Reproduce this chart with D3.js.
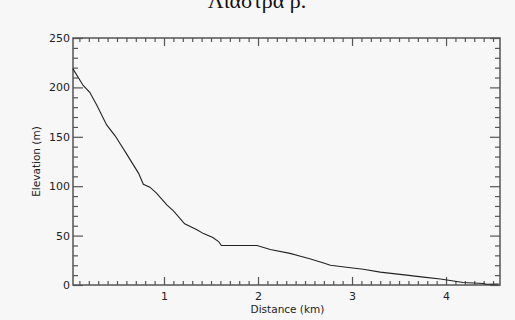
<!DOCTYPE html>
<html>
<head>
<meta charset="utf-8">
<script src="https://cdn.jsdelivr.net/npm/d3@7"></script>
<style>
html,body{margin:0;padding:0;background:#f7f7f7;}
svg{display:block;}
</style>
</head>
<body>
<svg id="chart" width="515" height="320"></svg>
<script>
const title = "Λιάστρα ρ.";
const xLabel = "Distance (km)";
const yLabel = "Elevation (m)";
const distanceKm = [0.03,0.14,0.21,0.28,0.39,0.48,0.60,0.73,0.78,0.85,0.92,1.03,1.10,1.22,1.35,1.42,1.52,1.58,1.61,1.99,2.13,2.34,2.55,2.69,2.77,2.94,3.12,3.30,3.58,3.76,3.94,4.08,4.18,4.40,4.43,4.56];
const elevationM = [219,202,195,183,162,151,133,113,102,99,93,81,75,62,56,52,48,44,40,40,36,32,26.5,22.5,20,18,16,13,10,8,6,4,2.5,1.5,0.8,1];
const xDomain = [0.032, 4.574];
const yDomain = [0, 250];
const xMajorTicks = [1,2,3,4];
const yMajorTicks = [0,50,100,150,200,250];

const svg = d3.select("#chart");
const L = 73, R = 500, T = 38, B = 285;
const x = d3.scaleLinear().domain(xDomain).range([L, R]);
const y = d3.scaleLinear().domain(yDomain).range([B, T]);

const axisColor = "#555";
const font = "'DejaVu Sans', sans-serif";

svg.append("rect").attr("width",515).attr("height",320).attr("fill","#f7f7f7");

svg.append("text").attr("x",257).attr("y",8).attr("text-anchor","middle")
  .attr("font-family","'Liberation Serif', 'DejaVu Serif', serif").attr("font-size",22)
  .attr("fill","#111").text(title);

const xMinor = d3.range(1, 46).map(d => d/10).filter(v => v > xDomain[0] && v < xDomain[1] && !xMajorTicks.includes(v));
const yMinor = d3.range(0, 251, 10).filter(v => v % 50 !== 0);

function styleAxis(g){
  g.select(".domain").remove();
  g.selectAll("line").attr("stroke", axisColor).attr("stroke-width", 1.2);
  g.selectAll("text").attr("font-family", font).attr("font-size", 11).attr("fill", "#222");
}

// bottom
const gb = svg.append("g").attr("transform",`translate(0,${B})`);
gb.call(d3.axisBottom(x).tickValues(xMinor).tickSize(-4).tickFormat("")).call(styleAxis);
const gbM = svg.append("g").attr("transform",`translate(0,${B})`);
gbM.call(d3.axisBottom(x).tickValues(xMajorTicks).tickSize(-8).tickPadding(12).tickFormat(d3.format("d"))).call(styleAxis);
gbM.selectAll("text").attr("dy","0.3em");
// top
svg.append("g").attr("transform",`translate(0,${T})`)
  .call(d3.axisTop(x).tickValues(xMinor).tickSize(-4).tickFormat("")).call(styleAxis);
svg.append("g").attr("transform",`translate(0,${T})`)
  .call(d3.axisTop(x).tickValues(xMajorTicks).tickSize(-8).tickFormat("")).call(styleAxis);
// left
svg.append("g").attr("transform",`translate(${L},0)`)
  .call(d3.axisLeft(y).tickValues(yMinor).tickSize(-5).tickFormat("")).call(styleAxis);
const gl = svg.append("g").attr("transform",`translate(${L},0)`);
gl.call(d3.axisLeft(y).tickValues(yMajorTicks).tickSize(-10).tickPadding(3).tickFormat(d3.format("d"))).call(styleAxis);
// right
svg.append("g").attr("transform",`translate(${R},0)`)
  .call(d3.axisRight(y).tickValues(yMinor).tickSize(-5).tickFormat("")).call(styleAxis);
svg.append("g").attr("transform",`translate(${R},0)`)
  .call(d3.axisRight(y).tickValues(yMajorTicks).tickSize(-10).tickFormat("")).call(styleAxis);

// frame
svg.append("rect").attr("x",L).attr("y",T).attr("width",R-L).attr("height",B-T)
  .attr("fill","none").attr("stroke",axisColor).attr("stroke-width",1.5);

// line
const line = d3.line().x((d,i)=>x(distanceKm[i])).y(d=>y(d));
svg.append("path").datum(elevationM).attr("d",line)
  .attr("fill","none").attr("stroke","#222").attr("stroke-width",1.1);

// axis titles
svg.append("text").attr("x",(L+R)/2+1).attr("y",313).attr("text-anchor","middle")
  .attr("font-family",font).attr("font-size",10.5).attr("fill","#222").text(xLabel);
svg.append("text").attr("transform",`translate(40,${(T+B)/2}) rotate(-90)`).attr("text-anchor","middle")
  .attr("font-family",font).attr("font-size",10.5).attr("fill","#222").text(yLabel);
</script>
</body>
</html>
